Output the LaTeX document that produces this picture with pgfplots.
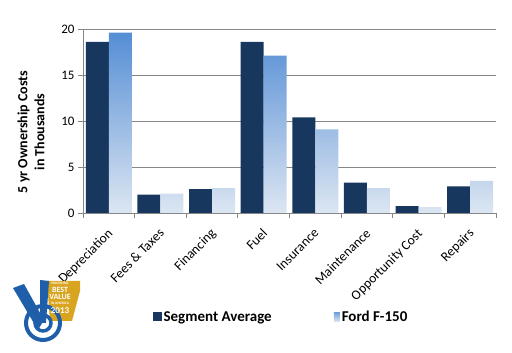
\documentclass[border=0pt]{standalone}
\usepackage{pgfplots}
\pgfplotsset{compat=1.18}
\usepackage{fontspec}
\setmainfont{Carlito}
\definecolor{navy}{HTML}{17375E}
\definecolor{ftop}{HTML}{558ED5}
\definecolor{fbot}{HTML}{DCE6F2}
\definecolor{gridc}{HTML}{868686}
\definecolor{logoblue}{HTML}{1F5FAA}
\definecolor{logogold}{HTML}{D9A520}
\begin{document}
\begin{tikzpicture}
\path[use as bounding box] (0,0) rectangle (512pt,353pt);
\begin{axis}[
  at={(83pt,140pt)}, anchor=south west,
  scale only axis, width=413pt, height=184pt,
  xmin=-0.5, xmax=7.5, ymin=0, ymax=20,
  ybar=0pt, bar width=0.445,
  axis lines*=left,
  axis line style={gridc, line width=0.8pt},
  ymajorgrids, grid style={gridc, line width=0.8pt},
  ytick={0,5,10,15,20},
  xtick={0,...,7},
  xticklabels={Depreciation,Fees \& Taxes,Financing,Fuel,Insurance,Maintenance,Opportunity Cost,Repairs},
  minor xtick={-0.5,0.5,...,7.5},
  major x tick style={draw=none},
  minor x tick style={gridc, line width=0.8pt},
  minor tick length=5pt,
  y tick style={gridc, line width=0.8pt},
  major tick length=5pt,
  tick align=outside,
  xticklabel style={rotate=45, anchor=north east, font=\fontsize{13.5}{14}\selectfont, inner sep=1pt, xshift=-1.5pt, yshift=1.5pt},
  xticklabel shift=8pt,
  yticklabel style={font=\fontsize{13}{14}\selectfont},
  /pgf/number format/assume math mode=true,
  ylabel={5 yr Ownership Costs\\in Thousands},
  ylabel style={align=center, font=\bfseries\fontsize{14}{17}\selectfont, at={(axis description cs:-0.126,0.44)}, anchor=center},
  legend columns=2,
  legend style={at={(198pt,-104pt)}, anchor=center, draw=none, fill=none,
    font=\bfseries\fontsize{15}{16}\selectfont,
    /tikz/every even column/.append style={column sep=60pt},
    /tikz/every odd column/.append style={column sep=0pt}},
  legend image code/.code={\path[#1] (2pt,-4.5pt) rectangle (11pt,4.5pt);},
  clip=false,
]
\addplot[fill=navy, draw=none] coordinates {(0,18.6) (1,2.0) (2,2.6) (3,18.6) (4,10.4) (5,3.3) (6,0.76) (7,2.9)};
\addplot[draw=none, top color=ftop, bottom color=fbot,
  legend image code/.code={\path[draw=none, top color=ftop!80, bottom color=fbot] (5pt,-4.5pt) rectangle (11pt,4pt);}]
  coordinates {(0,19.6) (1,2.1) (2,2.7) (3,17.1) (4,9.1) (5,2.7) (6,0.65) (7,3.5)};
\legend{Segment Average, Ford F-150}
\end{axis}
% simple logo approximation
\begin{scope}[yshift=-3pt]
\fill[logogold] (47pt,75pt) -- (80pt,75pt) -- (80pt,65pt) -- (72pt,35pt) -- (50pt,35pt) -- cycle;
\draw[logoblue, line width=4pt] (43pt,33pt) circle (17pt);
\draw[logoblue, line width=3.5pt] (43pt,33pt) circle (8pt);
\fill[logoblue] (13pt,68pt) -- (24pt,72pt) -- (44pt,36pt) -- (38pt,26pt) -- cycle;
\fill[logoblue] (40pt,76pt) -- (49pt,75pt) -- (46pt,33pt) -- (40pt,33pt) -- cycle;
\node[white, font=\bfseries\fontsize{3.5}{3.5}\selectfont, inner sep=0pt] at (60pt,73pt) {VINCENTRIC};
\node[white, font=\bfseries\fontsize{8}{7}\selectfont, align=center, inner sep=0pt] at (60pt,62.5pt) {BEST\\VALUE};
\node[white, font=\bfseries\fontsize{3.5}{3.5}\selectfont, inner sep=0pt] at (60pt,53pt) {IN AMERICA};
\node[white, font=\bfseries\fontsize{9}{9}\selectfont, inner sep=0pt] at (60pt,45pt) {2013};
\end{scope}
\end{tikzpicture}
\end{document}
